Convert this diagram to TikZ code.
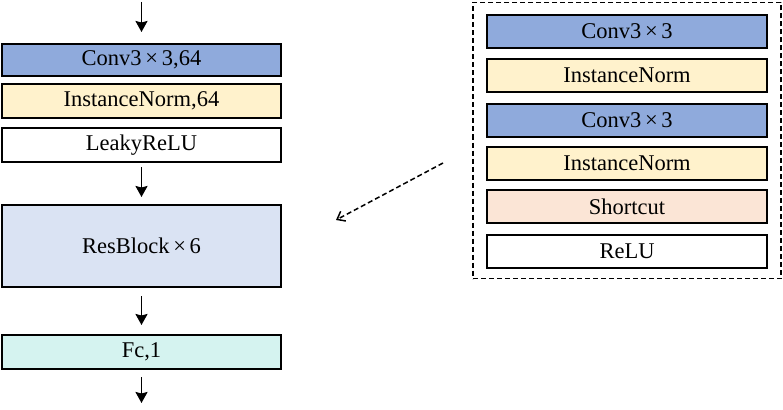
\documentclass[tikz,border=0pt]{standalone}
\usepackage{fontspec}
\setmainfont{Liberation Serif}
\usetikzlibrary{arrows.meta, positioning, fit}
\definecolor{convblue}{HTML}{8FAADC}
\definecolor{normyellow}{HTML}{FFF2CC}
\definecolor{resblue}{HTML}{DAE3F3}
\definecolor{fccyan}{HTML}{D5F3F0}
\definecolor{shortpeach}{HTML}{FBE5D6}
\newcommand{\bytimes}{\,×\,}
\tikzset{
  layer/.style={draw, line width=2pt, outer sep=0pt, inner sep=0pt,
    minimum width=279pt, minimum height=33pt,
    font=\fontsize{22.5}{26}\selectfont},
  flowarrow/.style={-{Stealth[length=11pt, width=12pt, inset=1.5pt]}, line width=1.9pt},
  frame/.style={draw, dash pattern=on 5pt off 3pt, line width=1.8pt, inner sep=0pt},
}

\begin{document}
\begin{tikzpicture}[x=1pt, y=1pt]
  \useasboundingbox (0,0) rectangle (783,-409);

  % main network column
  \node[layer, fill=convblue, minimum height=32pt] (conv) at (141.5,-60) {Conv3\bytimes3,64};
  \node[layer, fill=normyellow, minimum height=34pt, below=8pt of conv] (norm) {InstanceNorm,64};
  \node[layer, fill=white, minimum height=34pt, below=10pt of norm] (leaky) {LeakyReLU};
  \node[layer, fill=resblue, minimum height=82pt, below=43pt of leaky] (res) {ResBlock\bytimes6};
  \node[layer, fill=fccyan, minimum height=34pt, below=48pt of res] (fc) {Fc,1};

  \coordinate (in) at (141.5,-2);
  \coordinate[below=37pt of fc.south] (out);

  \draw[flowarrow, shorten >=12pt] (in) -- (conv);
  \draw[flowarrow, shorten <=5pt, shorten >=8pt] (leaky) -- (res);
  \draw[flowarrow, shorten <=9pt, shorten >=10pt] (res) -- (fc);
  \draw[flowarrow, shorten <=8pt, shorten >=3pt] (fc) -- (out);

  % residual block detail
  \node[layer, fill=convblue, minimum width=280pt, minimum height=33pt] (rconv1) at (627,-31.5) {Conv3\bytimes3};
  \node[layer, fill=normyellow, minimum width=280pt, below=11pt of rconv1] (rnorm1) {InstanceNorm};
  \node[layer, fill=convblue, minimum width=280pt, below=12pt of rnorm1] (rconv2) {Conv3\bytimes3};
  \node[layer, fill=normyellow, minimum width=280pt, below=10pt of rconv2] (rnorm2) {InstanceNorm};
  \node[layer, fill=shortpeach, minimum width=280pt, below=10pt of rnorm2] (short) {Shortcut};
  \node[layer, fill=white, minimum width=280pt, below=12pt of short] (relu) {ReLU};

  \node[frame, fit=(rconv1)(relu), inner xsep=14pt, inner ysep=11.5pt, yshift=1pt] (detail) {};

  \coordinate (from) at (443,-163);
  \coordinate (to) at (336,-220);
  \draw[-{Straight Barb[length=7pt, width=11pt]}, dash pattern=on 5pt off 3pt, line width=1.5pt] (from) -- (to);
\end{tikzpicture}
\end{document}
